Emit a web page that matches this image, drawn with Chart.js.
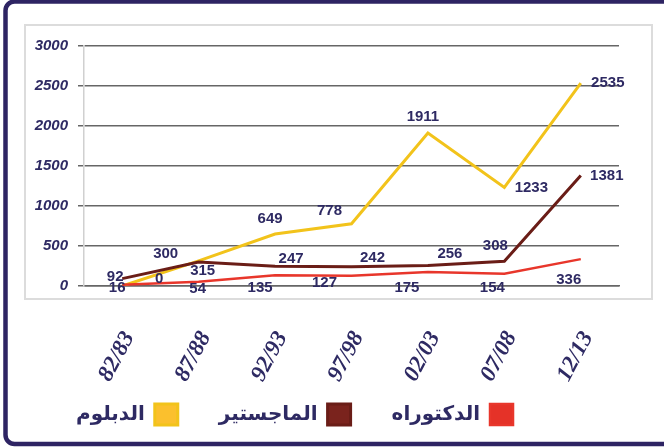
<!DOCTYPE html>
<html>
<head>
<meta charset="utf-8">
<script src="https://cdn.jsdelivr.net/npm/chart.js@4/dist/chart.umd.min.js"></script>
<style>
  html, body { margin: 0; padding: 0; background: #fff; overflow: hidden; }
  canvas { display: block; }
</style>
</head>
<body>
<canvas id="myChart" width="664" height="447"></canvas>
<script>
// data
const years = ['82/83', '87/88', '92/93', '97/98', '02/03', '07/08', '12/13'];
const diploma = [0, 315, 649, 778, 1911, 1233, 2535];
const master = [92, 300, 247, 242, 256, 308, 1381];
const doctorate = [16, 54, 135, 127, 175, 154, 336];
const yTicks = [0, 500, 1000, 1500, 2000, 2500, 3000];

const navy = '#2e2a63';

// where each value label sits relative to its point (px)
const labelOffsets = {
    diploma: [[37, -7], [4, 10], [-5, -15], [-22, -13], [-5, -16], [27, 0], [27, 0]],
    master: [[-7, -2], [-33, -8], [16, -7], [21, -9], [22, -12], [-9, -16], [26, 0]],
    doctorate: [[-5, 3], [-1, 7], [-15, 13], [-27, 7], [-21, 16], [-12, 14], [-12, 21]]
};

// frame + light inner box
const frame = {
    id: 'frame',
    beforeDraw(chart) {
        const c = chart.ctx;
        c.save();
        c.strokeStyle = '#dcdcdc';
        c.lineWidth = 2;
        c.strokeRect(25, 25, 627, 274);
        c.strokeStyle = '#2e2463';
        c.lineWidth = 4.5;
        c.beginPath();
        c.roundRect(5.5, 1.5, 680, 442.5, 9);
        c.stroke();
        c.restore();
    }
};

// legend sits a bit left of centre in the original; x labels overlap the legend box
const layoutTweaks = {
    id: 'layoutTweaks',
    afterLayout(chart) {
        chart.legend.left -= 15;
        chart.legend.right -= 15;
        chart.scales.x.bottom += 40;
    }
};

const valueLabels = {
    id: 'valueLabels',
    afterDatasetsDraw(chart) {
        const c = chart.ctx;
        c.save();
        c.font = 'bold 15px "Liberation Sans", Arial, sans-serif';
        c.fillStyle = navy;
        c.textAlign = 'center';
        c.textBaseline = 'middle';
        chart.data.datasets.forEach((ds, i) => {
            const meta = chart.getDatasetMeta(i);
            const offs = labelOffsets[ds.key];
            meta.data.forEach((pt, j) => {
                c.fillText(ds.data[j], pt.x + offs[j][0], pt.y + offs[j][1]);
            });
        });
        c.restore();
    }
};

const ctx = document.getElementById('myChart');

const myChart = new Chart(ctx, {
    type: 'line',
    data: {
        labels: years,
        datasets: [
            { key: 'doctorate', label: 'الدكتوراه', data: doctorate, borderColor: '#e8362b', backgroundColor: '#e53228', borderWidth: 2.5 },
            { key: 'master', label: 'الماجستير', data: master, borderColor: '#6a1d17', backgroundColor: '#7a231d', borderWidth: 3 },
            { key: 'diploma', label: 'الدبلوم', data: diploma, borderColor: '#f2c31b', backgroundColor: '#fbc02d', borderWidth: 3 }
        ]
    },
    options: {
        responsive: false,
        animation: false,
        elements: {
            point: { radius: 0 },
            line: { tension: 0 }
        },
        layout: { padding: { top: 46, right: 45, bottom: 12, left: 0 } },
        scales: {
            x: {
                offset: true,
                grid: { display: false, offset: false },
                border: { display: true, color: '#666', width: 1.5 },
                ticks: {
                    color: navy,
                    font: { family: '"Liberation Serif", serif', weight: 'bold', style: 'italic', size: 23 },
                    minRotation: 62,
                    maxRotation: 62,
                    padding: 33,
                    labelOffset: 7
                },
                afterFit(scale) { scale.height = 77; }
            },
            y: {
                min: 0,
                max: 3000,
                afterBuildTicks(scale) { scale.ticks = yTicks.map(v => ({ value: v })); },
                grid: { color: '#666', lineWidth: 1.5, tickLength: 6, tickColor: '#666' },
                border: { display: true, color: '#d0d0d0', width: 1.5 },
                ticks: {
                    color: navy,
                    padding: 10,
                    callback: v => String(v),
                    font: { family: '"Liberation Sans", Arial, sans-serif', weight: 'bold', style: 'italic', size: 15 }
                },
                afterFit(scale) { scale.width = 84; }
            }
        },
        plugins: {
            legend: {
                position: 'bottom',
                rtl: true,
                textDirection: 'rtl',
                labels: {
                    boxWidth: 23,
                    boxHeight: 21,
                    padding: 41,
                    color: navy,
                    font: { family: '"DejaVu Sans", sans-serif', weight: 'bold', size: 20 }
                }
            },
            tooltip: { enabled: false }
        }
    },
    plugins: [frame, layoutTweaks, valueLabels]
});
</script>
</body>
</html>
